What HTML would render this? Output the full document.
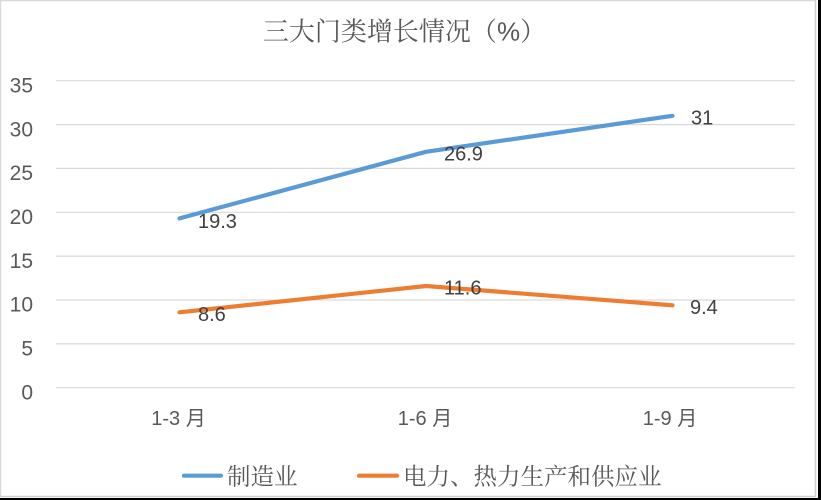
<!DOCTYPE html>
<html>
<head>
<meta charset="utf-8">
<style>
  html,body{margin:0;padding:0;background:#fff;}
  body{width:821px;height:500px;overflow:hidden;}
  svg{display:block;}
  .ax{font-family:"Liberation Sans","Noto Sans CJK SC",sans-serif;font-size:20px;fill:#595959;}
  .ay{font-family:"Liberation Sans","Noto Sans CJK SC",sans-serif;font-size:21px;fill:#595959;}
  .dl{font-family:"Liberation Sans","Noto Sans CJK SC",sans-serif;font-size:20px;fill:#404040;}
  .ttl{font-family:"Noto Serif CJK SC","Noto Sans CJK SC",serif;font-size:26px;fill:#595959;}
  .lg{font-family:"Noto Serif CJK SC","Noto Sans CJK SC",serif;font-size:23.5px;fill:#595959;}
</style>
</head>
<body>
<svg width="821" height="500" viewBox="0 0 821 500" xmlns="http://www.w3.org/2000/svg">
  <rect x="0" y="0" width="821" height="500" fill="#fff"/>
  <line x1="0.5" y1="0" x2="0.5" y2="497" stroke="#d9d9d9" stroke-width="1.5"/>
  <line x1="0" y1="0.5" x2="816" y2="0.5" stroke="#d9d9d9" stroke-width="1.5"/>
  <line x1="815.5" y1="0" x2="815.5" y2="497" stroke="#d0d0d0" stroke-width="1.5"/>
  <line x1="0" y1="496.5" x2="816" y2="496.5" stroke="#d0d0d0" stroke-width="1.5"/>
  <rect x="818" y="0" width="3" height="500" fill="#000"/>
  <rect x="0" y="498" width="821" height="2" fill="#000"/>

  <text class="ttl" x="404.5" y="40.5" text-anchor="middle">三大门类增长情况（<tspan font-family="Liberation Sans">%</tspan>）</text>

  <g stroke="#d9d9d9" stroke-width="1.2">
    <line x1="56" y1="80.7" x2="795" y2="80.7"/>
    <line x1="56" y1="124.6" x2="795" y2="124.6"/>
    <line x1="56" y1="168.4" x2="795" y2="168.4"/>
    <line x1="56" y1="212.3" x2="795" y2="212.3"/>
    <line x1="56" y1="256.1" x2="795" y2="256.1"/>
    <line x1="56" y1="300.0" x2="795" y2="300.0"/>
    <line x1="56" y1="343.9" x2="795" y2="343.9"/>
    <line x1="56" y1="387.7" x2="795" y2="387.7"/>
  </g>

  <g class="ay" text-anchor="end">
    <text x="33" y="92.5">35</text>
    <text x="33" y="136.3">30</text>
    <text x="33" y="180.1">25</text>
    <text x="33" y="224">20</text>
    <text x="33" y="267.8">15</text>
    <text x="33" y="311.7">10</text>
    <text x="33" y="355.6">5</text>
    <text x="33" y="399.4">0</text>
  </g>

  <g class="ax" text-anchor="middle">
    <text x="178.5" y="425">1-3 月</text>
    <text x="425" y="425">1-6 月</text>
    <text x="670" y="425">1-9 月</text>
  </g>

  <polyline points="179.5,218.4 426,151.8 672.5,115.8" fill="none" stroke="#5b9bd5" stroke-width="4.2" stroke-linecap="round" stroke-linejoin="round"/>
  <polyline points="179.5,312.3 426,286.0 672.5,305.3" fill="none" stroke="#ed7d31" stroke-width="4.2" stroke-linecap="round" stroke-linejoin="round"/>

  <g class="dl">
    <text x="198" y="227.8">19.3</text>
    <text x="444" y="160.5">26.9</text>
    <text x="691" y="124.3">31</text>
    <text x="198" y="321">8.6</text>
    <text x="444" y="294.3">11.6</text>
    <text x="690" y="314">9.4</text>
  </g>

  <line x1="184" y1="475.7" x2="221" y2="475.7" stroke="#5b9bd5" stroke-width="4.2" stroke-linecap="round"/>
  <text class="lg" x="227" y="484.5">制造业</text>
  <line x1="359" y1="475.7" x2="397" y2="475.7" stroke="#ed7d31" stroke-width="4.2" stroke-linecap="round"/>
  <text class="lg" x="403" y="484.5">电力、热力生产和供应业</text>
</svg>
</body>
</html>
